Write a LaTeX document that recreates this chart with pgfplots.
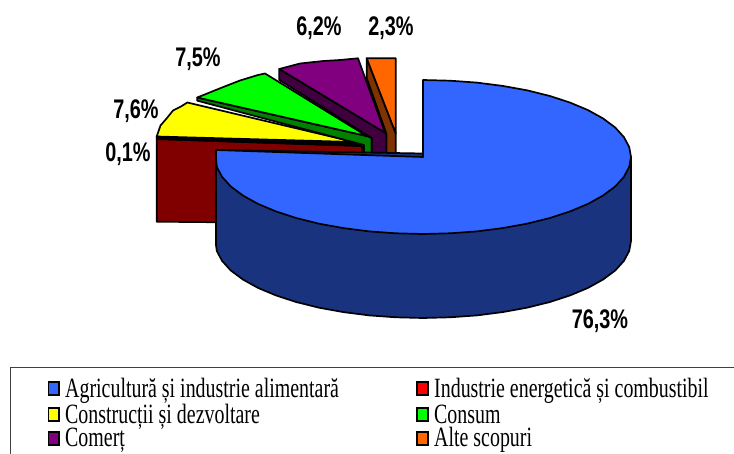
\documentclass[border=0pt]{standalone}
\usepackage{pgfplots}
\pgfplotsset{compat=1.18}
\usepackage{fontspec}
\setmainfont{Liberation Serif}
\newfontfamily\legfont[FakeStretch=0.714]{Liberation Serif}
\newfontfamily\labfont[FakeStretch=0.738]{Liberation Sans Bold}
\definecolor{cblue}{HTML}{3366FF}
\definecolor{dblue}{HTML}{19337F}
\definecolor{cred}{HTML}{FF0000}
\definecolor{dred}{HTML}{800000}
\definecolor{cyel}{HTML}{FFFF00}
\definecolor{cgre}{HTML}{00FF00}
\definecolor{dgre}{HTML}{008000}
\definecolor{cpur}{HTML}{800080}
\definecolor{dpur}{HTML}{400040}
\definecolor{cora}{HTML}{FF6600}
\definecolor{dora}{HTML}{803300}
\tikzset{lab/.style={font=\labfont\fontsize{27}{27}\selectfont,inner sep=0pt,anchor=center},
leg/.style={font=\legfont\fontsize{28}{28}\selectfont,inner sep=0pt,anchor=base west}}
\pgfplotsset{slice/.style={draw=black,line width=1.7bp,line join=round},
sw/.style={draw=black,line width=1.3bp,line join=miter}}
\begin{document}
\begin{tikzpicture}
\begin{axis}[scale only axis,width=734bp,height=454bp,xmin=0,xmax=734,ymin=0,ymax=454,y dir=reverse,hide axis,clip=true]
\addplot[draw=none,forget plot] coordinates {(0,0)(734,454)};
% red 0.1 %
\addplot[slice,fill=dred] coordinates {(156.7,139)(362,146)(362,156)(300,156)(300,223)(156.7,221.7)} -- cycle;
\addplot[slice,fill=black] coordinates {(156.7,136.5)(354,142)(362,146)(156.7,139)} -- cycle;
% yellow 7.6 %
\addplot[slice,fill=cyel] coordinates {(354,142)(187.3,102.5)(181,106.5)(173,110.5)(167,118)(160.5,125.5)(156.7,136.5)} -- cycle;
% green 7.5 %
\addplot[slice,fill=dgre] coordinates {(197.3,97.5)(197.3,100.7)(364,145)(364,155)(371.7,155)(371.7,138)(366.7,136)} -- cycle;
\addplot[slice,fill=cgre] coordinates {(366.7,136)(265,73.5)(258,75)(240,80.5)(223.3,87)(197.3,97.5)} -- cycle;
% purple 6.2 %
\addplot[slice,fill=dpur] coordinates {(279.3,69)(279.3,80)(371.7,138)(371.7,155)(386.5,155)(386.5,134)(385,132.7)} -- cycle;
\addplot[slice,fill=cpur] coordinates {(385,132.7)(358,58.3)(340,60)(323.3,61)(300,63.5)(279.3,69)} -- cycle;
% orange 2.3 %
\addplot[slice,fill=dora] coordinates {(366.7,58.3)(366.7,78)(386.5,134)(386.5,155)(395.7,155)(395.7,133.3)} -- cycle;
\addplot[slice,fill=cora] coordinates {(366.7,58.3)(395.7,58.3)(395.7,133.3)} -- cycle;
% blue 76.3 %: side
\addplot[slice,fill=dblue] coordinates {(631,157)(631,241)(629.2,251)(623.9,260.9)(615.2,270.5)(603.1,279.5)(588,287.9)(570.1,295.4)(549.6,302.1)(527,307.7)(502.6,312.1)(476.8,315.4)(450.1,317.3)(423,318)(395.9,317.3)(369.2,315.4)(343.4,312.1)(319,307.7)(296.4,302.1)(275.9,295.4)(258,287.9)(242.9,279.5)(230.8,270.5)(222.1,260.9)(216.8,251)(216,245)(216,150)} -- cycle;
% blue top
\addplot[slice,fill=cblue] coordinates {(423,157)(423,80)(450.1,80.7)(476.8,82.6)(502.6,85.9)(527,90.3)(549.6,95.9)(570.1,102.6)(588,110.1)(603.1,118.5)(615.2,127.5)(623.9,137.1)(629.2,147)(631,157)(629.2,167)(623.9,176.9)(615.2,186.5)(603.1,195.5)(588,203.9)(570.1,211.4)(549.6,218.1)(527,223.7)(502.6,228.1)(476.8,231.4)(450.1,233.3)(423,234)(395.9,233.3)(369.2,231.4)(343.4,228.1)(319,223.7)(296.4,218.1)(275.9,211.4)(258,203.9)(242.9,195.5)(230.8,186.5)(222.1,176.9)(216.8,167)(216,157)(216,150)} -- cycle;
% legend frame
\addplot[draw=black!75,line width=1bp] coordinates {(10,454)(10,367)(734,367)};
% legend swatches
\addplot[sw,fill=cblue] coordinates {(48.5,382)(59,382)(59,395)(48.5,395)} -- cycle;
\addplot[sw,fill=cyel] coordinates {(48.5,408)(59,408)(59,421)(48.5,421)} -- cycle;
\addplot[sw,fill=cpur] coordinates {(48.5,432)(59,432)(59,445)(48.5,445)} -- cycle;
\addplot[sw,fill=cred] coordinates {(417,382)(428,382)(428,395)(417,395)} -- cycle;
\addplot[sw,fill=cgre] coordinates {(417,408)(428,408)(428,421)(417,421)} -- cycle;
\addplot[sw,fill=cora] coordinates {(417,432)(428,432)(428,445)(417,445)} -- cycle;
\node[leg] at (axis cs:65,397) {Agricultură și industrie alimentară};
\node[leg] at (axis cs:65,423) {Construcții și dezvoltare};
\node[leg] at (axis cs:65,446) {Comerț};
\node[leg] at (axis cs:434,397) {Industrie energetică și combustibil};
\node[leg] at (axis cs:434,423) {Consum};
\node[leg] at (axis cs:434,446) {Alte scopuri};
% data labels
\node[lab] at (axis cs:319,28) {6,2\%};
\node[lab] at (axis cs:391,28) {2,3\%};
\node[lab] at (axis cs:198,59) {7,5\%};
\node[lab] at (axis cs:136,111) {7,6\%};
\node[lab] at (axis cs:128,154) {0,1\%};
\node[lab] at (axis cs:600,321) {76,3\%};
\end{axis}
\end{tikzpicture}
\end{document}
